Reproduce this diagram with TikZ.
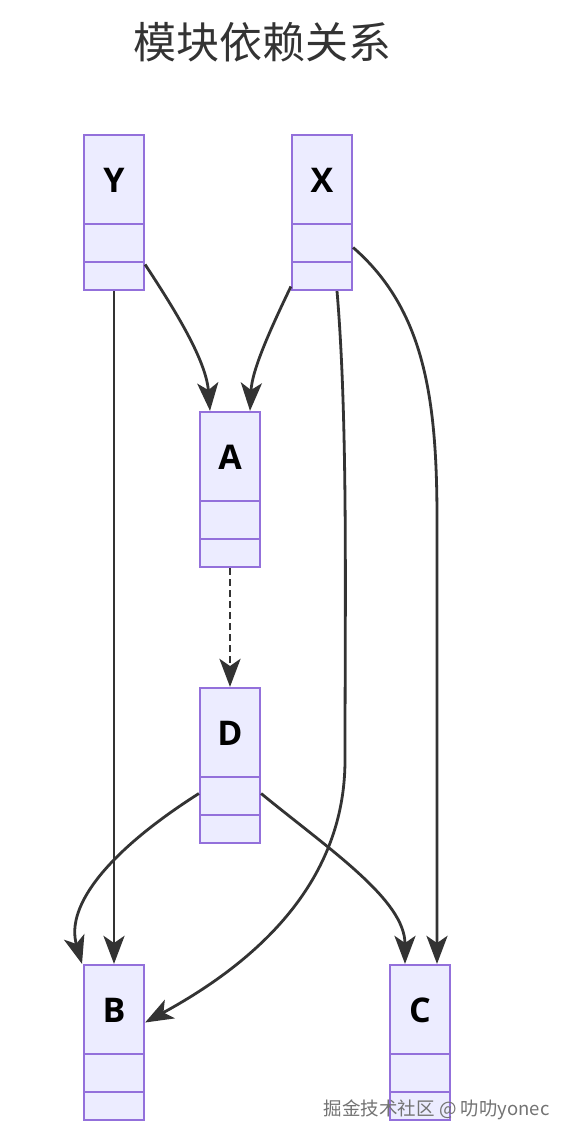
\documentclass[tikz,border=0pt]{standalone}
\usepackage{fontspec}
\setmainfont{Open Sans}
\newfontfamily\cjkfont{Noto Sans CJK SC}
\usetikzlibrary{arrows.meta}
\definecolor{boxfill}{HTML}{ECECFF}
\definecolor{boxline}{HTML}{9370DB}
\definecolor{edgecol}{HTML}{333333}
\definecolor{titlecol}{HTML}{333333}
\tikzset{
  classbox/.style={draw=boxline, fill=boxfill, line width=2.2pt, minimum width=60pt, minimum height=155pt, inner sep=0pt},
  classlabel/.style={font=\fontsize{34}{36}\selectfont\bfseries, text=black, inner sep=0pt},
  divider/.style={draw=boxline, line width=2.2pt},
  conn/.style={draw=edgecol, line width=2.8pt, -{Stealth[scale=1.8, inset=4pt]}},
}
\newcommand\mkclass[4]{%
  \node[classbox] (#1) at (#2,{#3+77.5}) {};
  \node[classlabel] (#1lab) at (#2,{#3+45}) {#4};
  \draw[divider] ({#2-30},{#3+89}) -- ({#2+30},{#3+89});
  \draw[divider] ({#2-30},{#3+127}) -- ({#2+30},{#3+127});
}
\begin{document}
\begin{tikzpicture}[x=1pt,y=-1pt]
\useasboundingbox[fill=white] (0,0) rectangle (570,1139);
\node[font=\cjkfont\fontsize{43}{46}\selectfont, text=titlecol] (title) at (262,42) {模块依赖关系};
\mkclass{Y}{114}{135}{Y}
\mkclass{X}{322}{135}{X}
\mkclass{A}{230}{412}{A}
\mkclass{D}{230}{688}{D}
\mkclass{B}{114}{965}{B}
\mkclass{C}{420}{965}{C}
% edges
\draw[conn] (Y.south) -- (B.north);
\draw[conn] ([yshift=-52pt]Y.east) .. controls (175,310) and (206,360) .. ([xshift=-20pt]A.north);
\draw[conn] ([yshift=-74pt]X.west) .. controls (270,330) and (252,370) .. ([xshift=20pt]A.north);
\draw[conn] ([xshift=15pt]X.south) .. controls (348,420) and (345,600) .. (345,760) .. controls (345,880) and (260,960) .. ([yshift=20pt]B.east);
\draw[conn] ([yshift=-35pt]X.east) .. controls (425,310) and (437,400) .. (437,520) -- ([xshift=17pt]C.north);
\draw[conn, dash pattern=on 7pt off 4pt] (A.south) -- (D.north);
\draw[conn] ([yshift=-28pt]D.west) .. controls (110,850) and (65,905) .. ([xshift=-32pt]B.north);
\draw[conn] ([yshift=-28pt]D.east) .. controls (330,850) and (405,900) .. ([xshift=-15pt]C.north);
\node[font=\cjkfont\fontsize{18.5}{20}\selectfont, text=black!55, anchor=east] (wm) at (553,1110) {掘金技术社区 @ 叻叻yonec};
\end{tikzpicture}
\end{document}
